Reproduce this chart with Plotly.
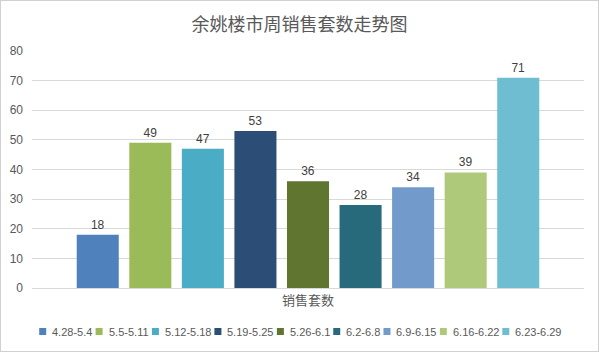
import plotly.graph_objects as go

weeks = ["4.28-5.4", "5.5-5.11", "5.12-5.18", "5.19-5.25", "5.26-6.1",
         "6.2-6.8", "6.9-6.15", "6.16-6.22", "6.23-6.29"]
sales = [18, 49, 47, 53, 36, 28, 34, 39, 71]
colors = ["#4F81BD", "#9BBB59", "#4BACC6", "#2C4D75", "#5F7530",
          "#276A7C", "#729ACA", "#AFC97A", "#6FBDD1"]
category = "销售套数"
title = "余姚楼市周销售套数走势图"

font_family = "Noto Sans CJK SC, Liberation Sans, sans-serif"
W, H = 599, 352
ML, MR, MT, MB = 32, 15, 51, 64
PW, PH = W - ML - MR, H - MT - MB

def px_x(px):
    return (px - ML) / PW

def px_y(py):
    return (H - MB - py) / PH

fig = go.Figure()
for w, v, c in zip(weeks, sales, colors):
    fig.add_trace(go.Bar(
        x=[category], y=[v], name=w, marker_color=c,
        marker_line=dict(width=8, color="rgba(0,0,0,0)"),
        text=[str(v)], textposition="outside", cliponaxis=False,
        textfont=dict(size=12, color="#404040", family="Liberation Sans, sans-serif"),
    ))

# custom one-row legend (square + label), laid out from estimated text widths
LEG_FS = 11
char_w = {".": 0.278, "-": 0.333}
def text_w(s):
    return sum(char_w.get(ch, 0.556) for ch in s) * LEG_FS

SQ, GAP_T, GAP_I = 7, 4, 5
widths = [SQ + GAP_T + text_w(w) for w in weeks]
total = sum(widths) + GAP_I * (len(weeks) - 1)
x = (W - total) / 2
ly = 331.5
shapes = []
annotations = []
for w, c, iw in zip(weeks, colors, widths):
    shapes.append(dict(type="rect", xref="paper", yref="paper",
                       x0=px_x(x), x1=px_x(x + SQ), y0=px_y(ly + SQ / 2), y1=px_y(ly - SQ / 2),
                       fillcolor=c, line=dict(width=0)))
    annotations.append(dict(text=w, xref="paper", yref="paper", x=px_x(x + SQ + GAP_T),
                            y=px_y(ly), xanchor="left", yanchor="middle", showarrow=False,
                            font=dict(size=LEG_FS, color="#595959", family="Liberation Sans, sans-serif")))
    x += iw + GAP_I

shapes.append(dict(type="rect", xref="paper", yref="paper",
                   x0=px_x(0), x1=px_x(W), y0=px_y(H), y1=px_y(0),
                   line=dict(color="#D0D0D0", width=2), layer="below"))

fig.update_layout(
    width=W, height=H,
    margin=dict(l=ML, r=MR, t=MT, b=MB),
    paper_bgcolor="white", plot_bgcolor="white",
    barmode="group", bargap=0.143, bargroupgap=0.2,
    title=dict(text=title, x=0.5, xanchor="center", y=1 - 25 / H, yanchor="middle",
               font=dict(size=18, color="#595959", family=font_family)),
    font=dict(family=font_family, color="#595959"),
    showlegend=False,
    yaxis=dict(range=[0, 80], dtick=10, showgrid=True, gridcolor="#D9D9D9",
               gridwidth=1, zeroline=False, showline=False, ticks="",
               ticklabelstandoff=8,
               tickfont=dict(size=12, color="#595959", family="Liberation Sans, sans-serif"),
               fixedrange=True, automargin=False),
    xaxis=dict(showline=True, linecolor="#D9D9D9", linewidth=1, ticks="",
               tickfont=dict(size=13, color="#595959"), automargin=False),
    shapes=shapes,
    annotations=annotations,
)

fig.write_html("out.html")
